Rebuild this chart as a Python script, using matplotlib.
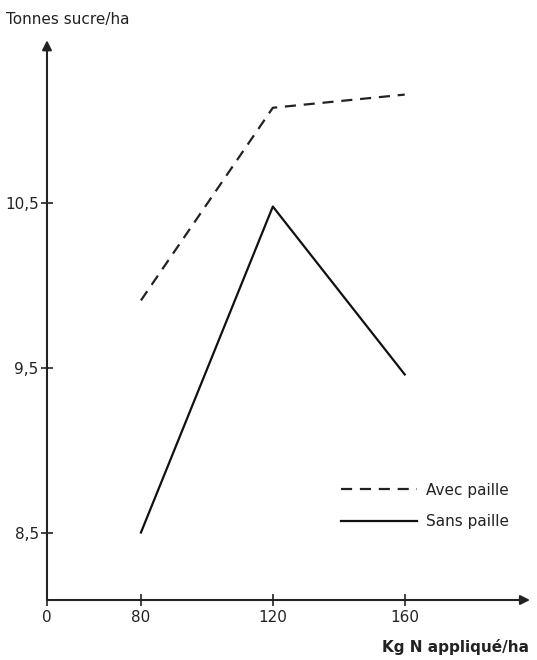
import matplotlib
matplotlib.use('Agg')
import matplotlib.pyplot as plt
from matplotlib.lines import Line2D

# Data
nitrogen = [80, 120, 160]
avec_paille = [9.91, 11.08, 11.16]
sans_paille = [8.50, 10.48, 9.46]
x_tick_labels = ['0', '80', '120', '160']
y_ticks = [8.5, 9.5, 10.5]
y_tick_labels = ['8,5', '9,5', '10,5']

x_origin = 51.5   # axis origin shown as "0" (broken axis in the original)
x_end = 198
y_origin = 8.09
y_end = 11.49

fig = plt.figure(figsize=(5.37, 6.60), dpi=100)
fig.patch.set_facecolor('white')
ax = fig.add_axes([0.0875, 0.0909, 0.987 - 0.0875, 0.939 - 0.0909])
ax.set_xlim(x_origin, x_end)
ax.set_ylim(y_origin, y_end)

for s in ax.spines.values():
    s.set_visible(False)

# axes with arrows
ax.annotate('', xy=(x_end, y_origin), xytext=(x_origin, y_origin),
            arrowprops=dict(arrowstyle='-|>', lw=1.5, color='#222222',
                            mutation_scale=14, shrinkA=0, shrinkB=0),
            annotation_clip=False)
ax.annotate('', xy=(x_origin, y_end), xytext=(x_origin, y_origin),
            arrowprops=dict(arrowstyle='-|>', lw=1.5, color='#222222',
                            mutation_scale=14, shrinkA=0, shrinkB=0),
            annotation_clip=False)

ax.plot(nitrogen, avec_paille, color='#222222', lw=1.6, dashes=(5, 3.5),
        label='Avec paille')
ax.plot(nitrogen, sans_paille, color='#111111', lw=1.6, label='Sans paille')

ax.set_xticks([x_origin] + nitrogen)
ax.set_xticklabels(x_tick_labels)
ax.set_yticks(y_ticks)
ax.set_yticklabels(y_tick_labels)
ax.tick_params(direction='inout', length=8, width=1.2, color='#222222',
               labelsize=11, labelcolor='#222222', pad=4)
ax.tick_params(axis='x', pad=3)
ax.tick_params(axis='y', pad=2)

fig.text(0.012, 0.970, 'Tonnes sucre/ha', fontsize=11,
         color='#222222', ha='left', va='center')
fig.text(0.985, 0.019, 'Kg N appliqué/ha', fontsize=11, fontweight='bold',
         color='#222222', ha='right', va='center')

handles = [Line2D([], [], color='#222222', lw=1.6, dashes=(5, 3.5)),
           Line2D([], [], color='#111111', lw=1.6)]
ax.legend(handles, ['Avec paille', 'Sans paille'], frameon=False,
          loc='center left', bbox_to_anchor=(0.58, 0.168),
          handlelength=5.0, handletextpad=0.6, labelspacing=1.1,
          prop={'size': 11}, labelcolor='#222222')

plt.savefig('out.png', dpi=100, facecolor='white')
plt.close()
